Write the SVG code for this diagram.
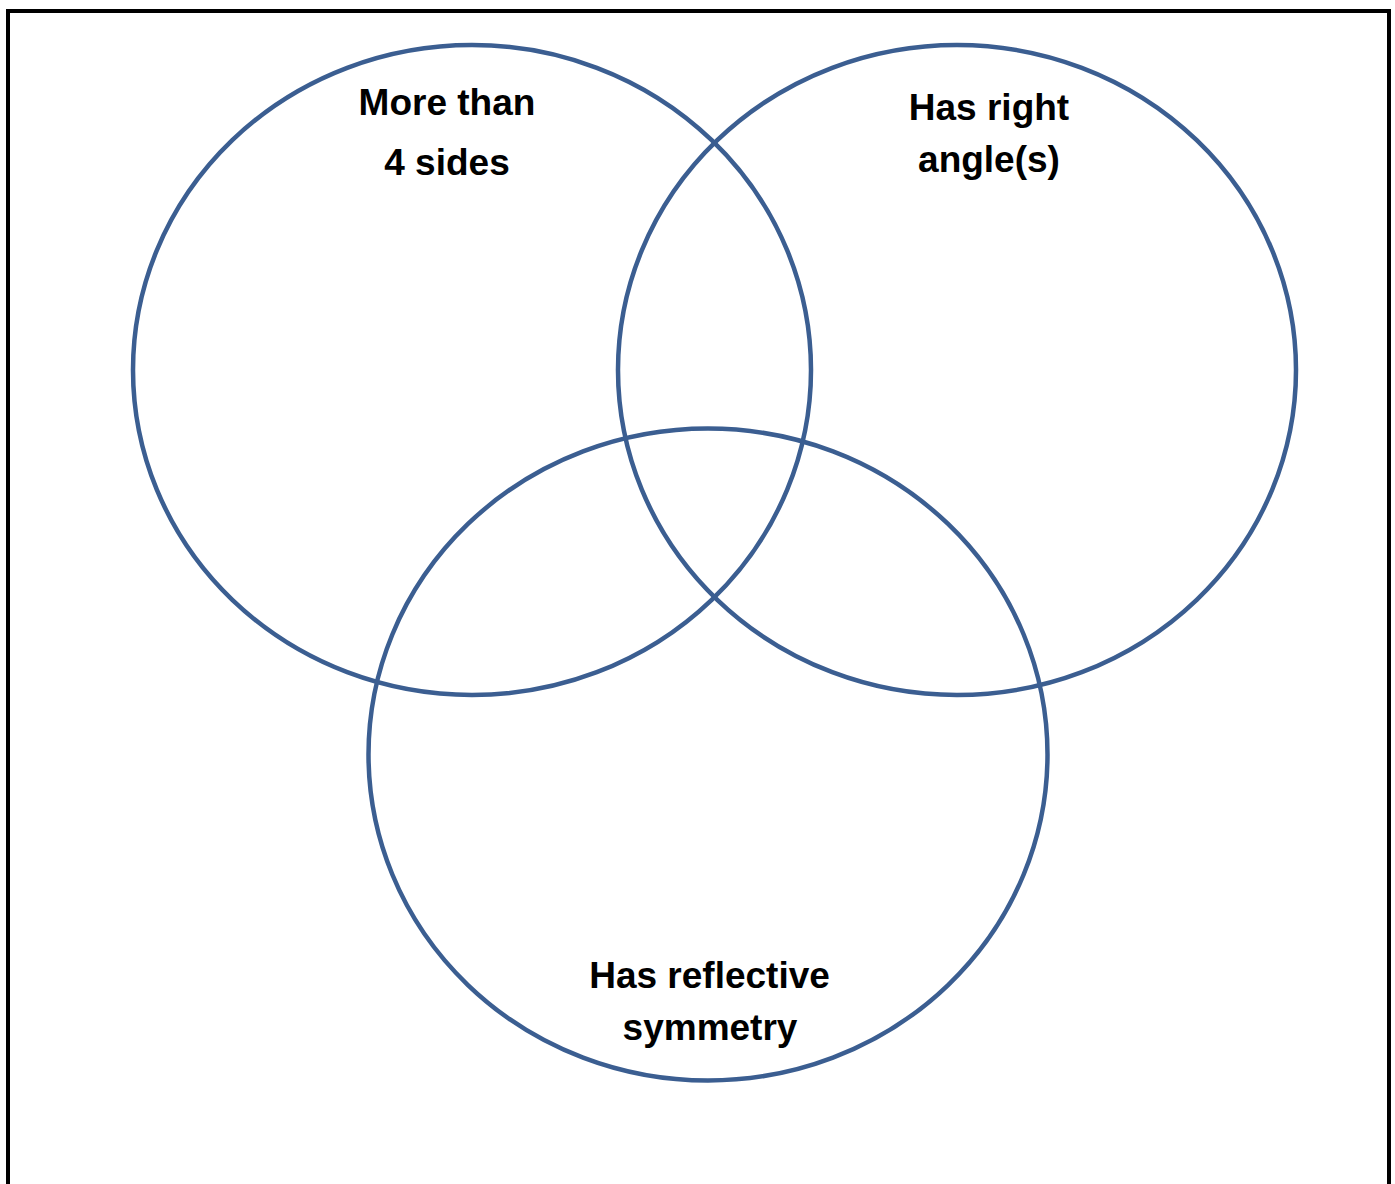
<svg xmlns="http://www.w3.org/2000/svg" width="1395" height="1184" viewBox="0 0 1395 1184">
<style>
.set{fill:none;stroke:#3b5e91;stroke-width:4.5}
.lbl{font-family:"Liberation Sans",Arial,sans-serif;font-weight:bold;font-size:37px;fill:#000;text-anchor:middle}
</style>
<rect x="0" y="0" width="1395" height="1184" fill="#fff"/>
<rect x="8" y="11" width="1381" height="1190" fill="none" stroke="#000" stroke-width="4"/>
<g id="set-more-than-4-sides">
<ellipse class="set" cx="472" cy="370" rx="339" ry="325"/>
<text class="lbl" x="447" y="115">More than</text>
<text class="lbl" x="447" y="175">4 sides</text>
</g>
<g id="set-right-angles">
<ellipse class="set" cx="957" cy="370" rx="339" ry="325"/>
<text class="lbl" x="989" y="120">Has right</text>
<text class="lbl" x="989" y="172">angle(s)</text>
</g>
<g id="set-reflective-symmetry">
<ellipse class="set" cx="708" cy="754.5" rx="339.5" ry="326"/>
<text class="lbl" x="709.5" y="988">Has reflective</text>
<text class="lbl" x="710" y="1040">symmetry</text>
</g>
<g id="connectors"></g>
</svg>
